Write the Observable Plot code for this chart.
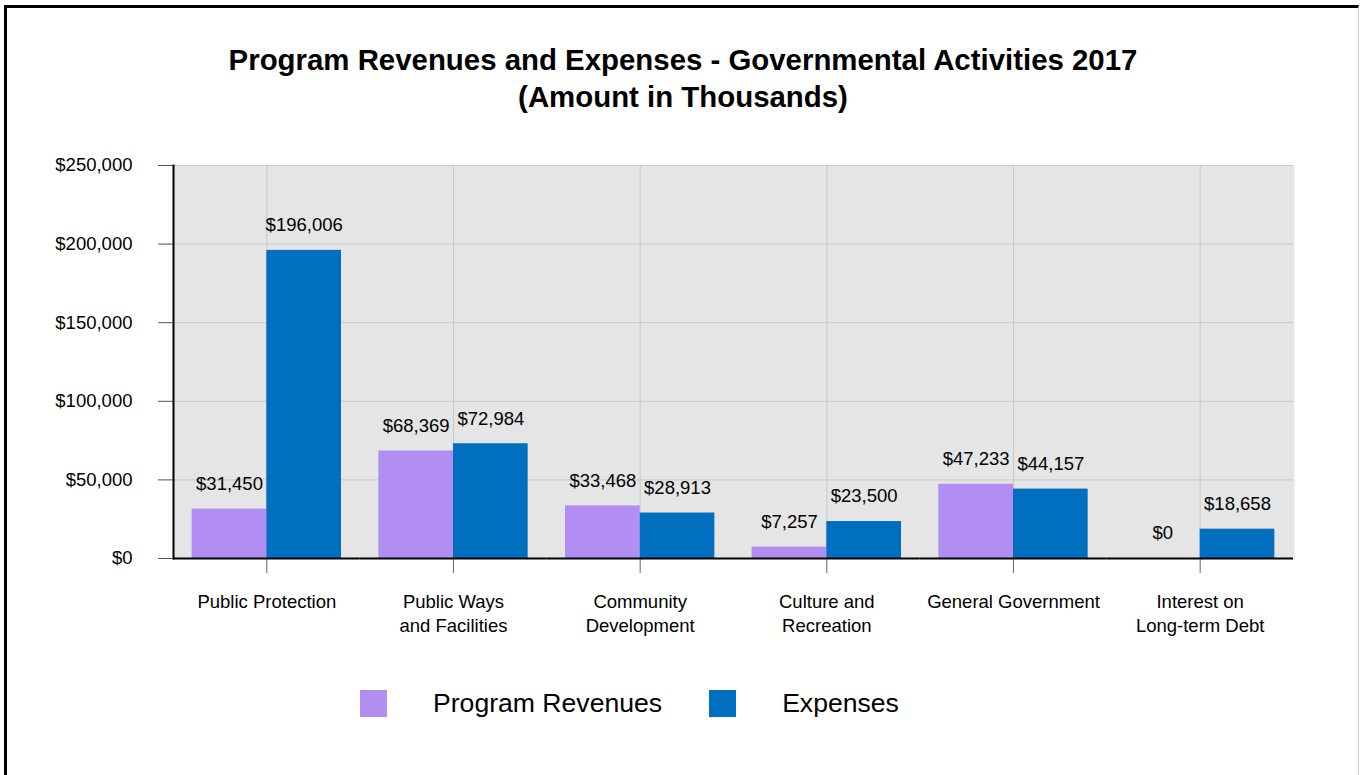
<!DOCTYPE html>
<html>
<head>
<meta charset="utf-8">
<script src="https://cdn.jsdelivr.net/npm/d3@7"></script>
<script src="https://cdn.jsdelivr.net/npm/@observablehq/plot@0.6"></script>
<style>
  html, body { margin: 0; padding: 0; background: #fff; }
  #wrap { position: relative; width: 1360px; height: 775px; overflow: hidden; font-family: "Liberation Sans", Arial, sans-serif; color: #000; }
  #frame { position: absolute; left: 4px; top: 5px; width: 1351px; height: 800px; border-left: 3px solid #000; border-top: 3px solid #000; border-right: 1px solid #d0d0d0; }
  #title { position: absolute; left: 0; width: 1366px; top: 41px; text-align: center; font-weight: bold; font-size: 29.4px; line-height: 37px; }
  #chart { position: absolute; left: 0; top: 130px; }
  #legend { position: absolute; left: 360px; top: 688px; display: flex; align-items: center; font-size: 26.6px; }
  .sw { width: 27px; height: 27px; margin-right: 46px; }
  .lab { margin-right: 47px; }
</style>
</head>
<body>
<div id="wrap">
  <div id="frame"></div>
  <div id="title">Program Revenues and Expenses - Governmental Activities 2017<br>(Amount in Thousands)</div>
  <div id="chart"></div>
  <div id="legend"></div>
</div>
<script>
const categories = [
  "Public Protection",
  "Public Ways\nand Facilities",
  "Community\nDevelopment",
  "Culture and\nRecreation",
  "General Government",
  "Interest on\nLong-term Debt"
];
const revenues = [31450, 68369, 33468, 7257, 47233, 0];
const expenses = [196006, 72984, 28913, 23500, 44157, 18658];
const seriesNames = ["Program Revenues", "Expenses"];
const seriesColors = ["#b28df2", "#006fc0"];
const yTicks = [0, 50000, 100000, 150000, 200000, 250000];

const fmt = d => "$" + d3.format(",")(d);
const data = categories.flatMap((c, i) => [
  {category: c, series: seriesNames[0], value: revenues[i]},
  {category: c, series: seriesNames[1], value: expenses[i]}
]);

const chart = Plot.plot({
  width: 1360,
  height: 520,
  marginTop: 35,
  marginBottom: 92,
  marginLeft: 173,
  marginRight: 67,
  style: {fontFamily: "'Liberation Sans', Arial, sans-serif", fontSize: "18.5px", color: "#000", background: "transparent", overflow: "visible"},
  fx: {domain: categories, paddingInner: 0, paddingOuter: 0, round: false, label: null, axis: null},
  x: {domain: seriesNames, paddingInner: 0, paddingOuter: 0.25, round: false, axis: null},
  y: {domain: [0, 250000], label: null},
  color: {domain: seriesNames, range: seriesColors},
  marks: [
    Plot.frame({fill: "#e5e5e5", stroke: null, insetRight: -1}),
    Plot.gridY(yTicks, {stroke: "#c8c8c8", strokeOpacity: 1}),
    Plot.gridFx({stroke: "#c8c8c8", strokeOpacity: 1}),
    Plot.barY(data, {fx: "category", x: "series", y: "value", fill: "series"}),
    Plot.text(data, {fx: "category", x: "series", y: "value", text: d => fmt(d.value), dy: -25, fontSize: 18.5, fill: "#000"}),
    Plot.axisY(yTicks, {tickSize: 15, tickPadding: 26, tickFormat: fmt, fontSize: 18.5, stroke: "#555", label: null}),
    Plot.axisFx({anchor: "bottom", tickSize: 15, tickPadding: 17, fontSize: 18.5, lineHeight: 1.3, stroke: "#666", label: null}),
    Plot.ruleY([0], {stroke: "#000", strokeWidth: 2}),
    Plot.frame({anchor: "left", facetAnchor: "left", stroke: "#000", strokeWidth: 2})
  ]
});
document.getElementById("chart").appendChild(chart);

const legend = document.getElementById("legend");
seriesNames.forEach((name, i) => {
  const sw = document.createElement("div");
  sw.className = "sw";
  sw.style.background = seriesColors[i];
  const lab = document.createElement("div");
  lab.className = "lab";
  lab.textContent = name;
  legend.appendChild(sw);
  legend.appendChild(lab);
});
</script>
</body>
</html>
